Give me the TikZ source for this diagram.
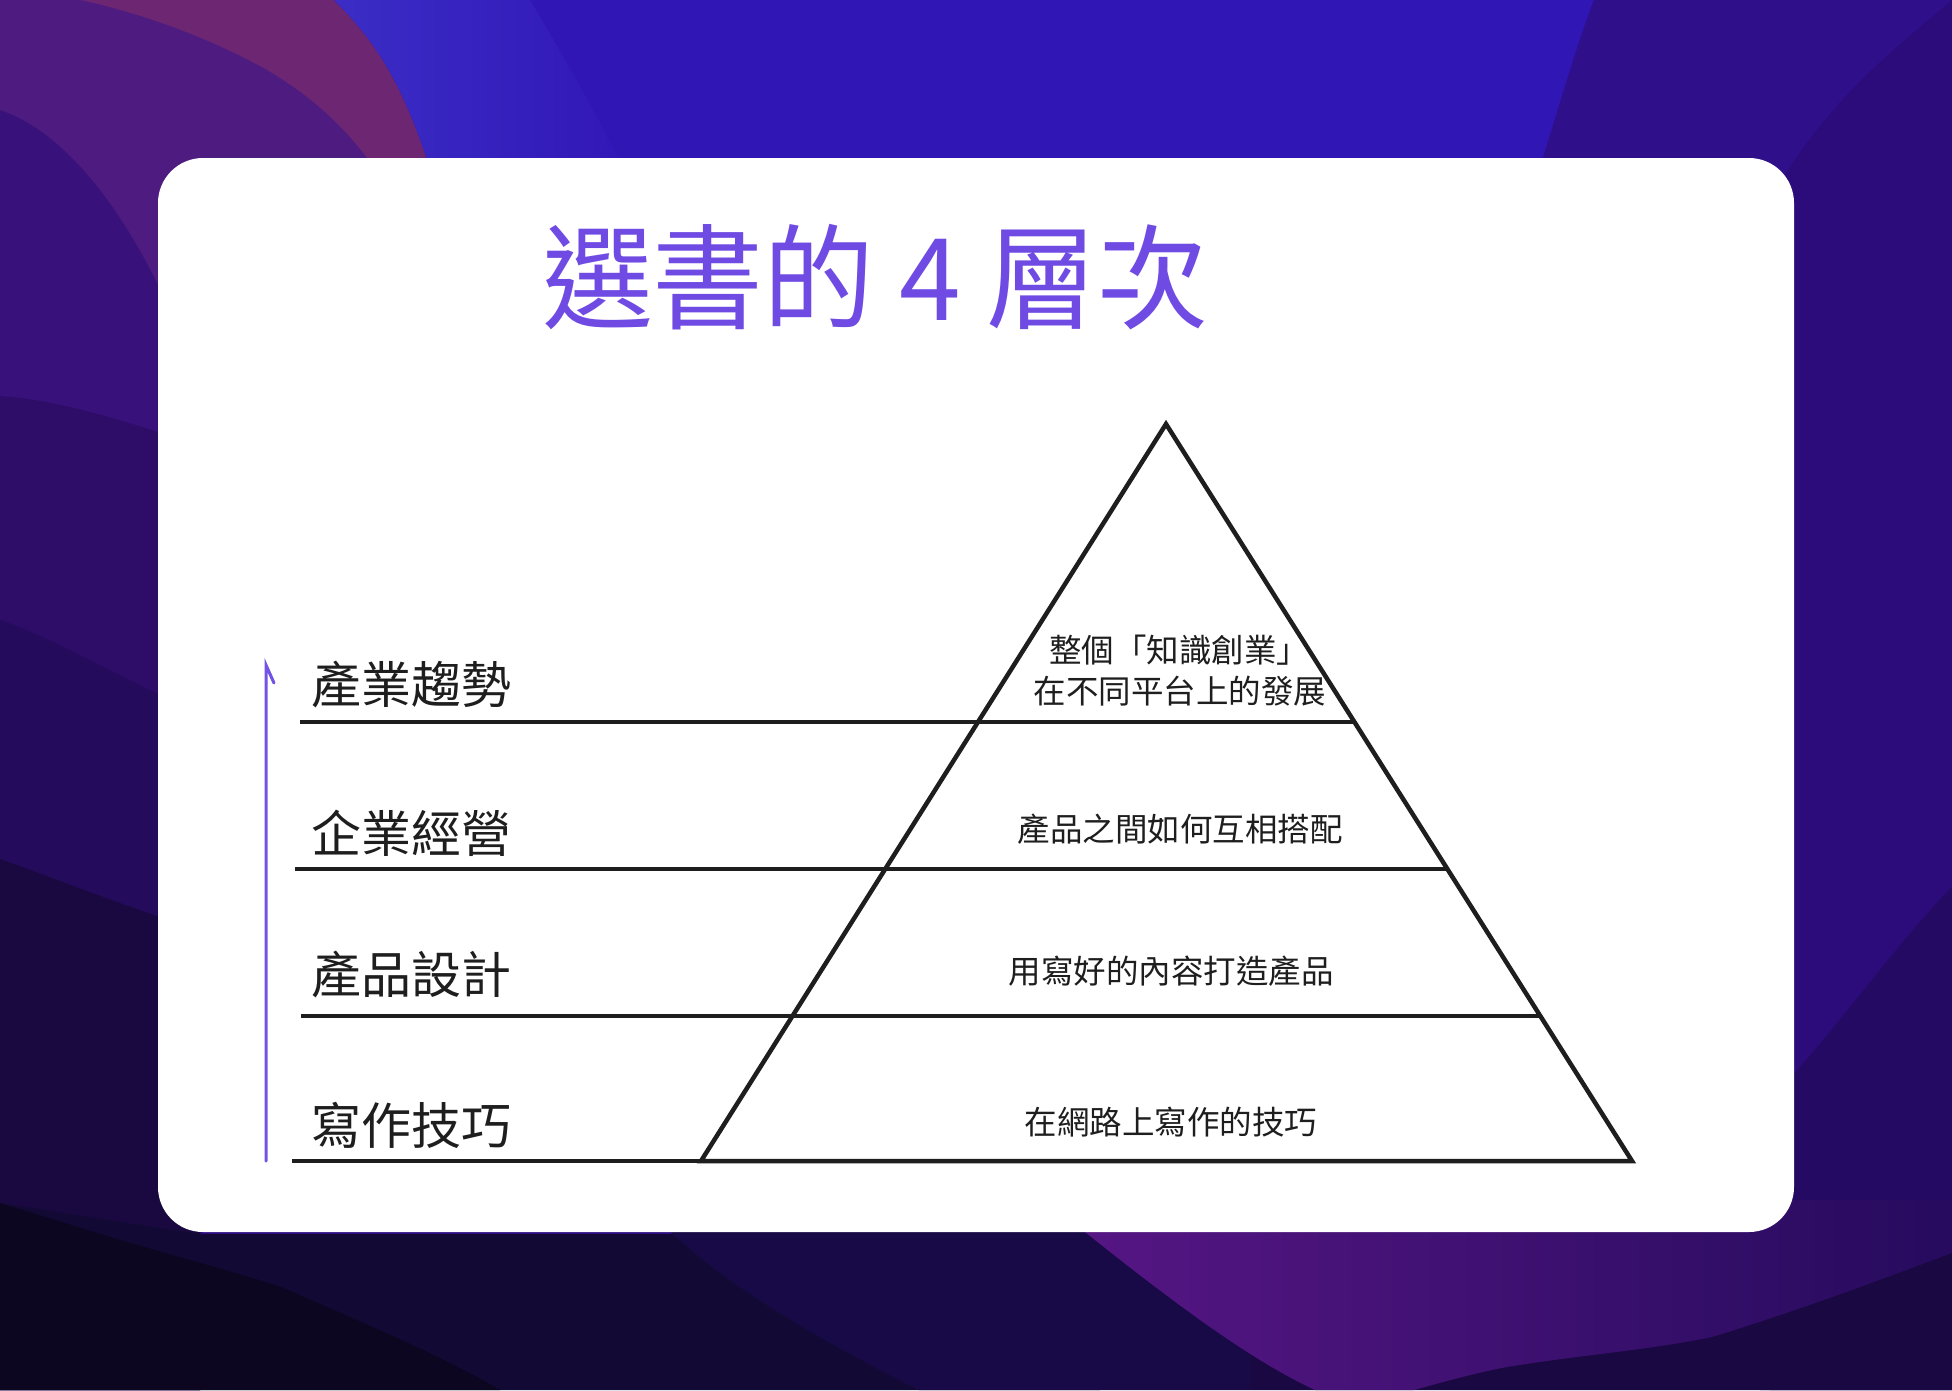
\documentclass[tikz,border=0pt]{standalone}
\usepackage{graphicx}
\usepackage{fontspec}
\newfontfamily\cjk{Noto Sans CJK TC}
\definecolor{bgbase}{HTML}{2C0C80}
\definecolor{bgblue}{HTML}{3116B6}
\definecolor{bgbluelt}{HTML}{3B2DC6}
\definecolor{bgtr}{HTML}{2F0F8A}
\definecolor{bgtrr}{HTML}{2B0C7A}
\definecolor{bgmag}{HTML}{6D2772}
\definecolor{bgA}{HTML}{4E1C80}
\definecolor{bgB}{HTML}{38127A}
\definecolor{bgC}{HTML}{2E0D68}
\definecolor{bgD}{HTML}{250B5C}
\definecolor{bgE}{HTML}{1A0940}
\definecolor{bgdark}{HTML}{0D0620}
\definecolor{bgmid}{HTML}{120A34}
\definecolor{bgmid2}{HTML}{170A46}
\definecolor{bgpur}{HTML}{561684}
\definecolor{bgpurend}{HTML}{260B5E}
\definecolor{bgbr}{HTML}{1A0842}
\definecolor{bgrb}{HTML}{240A62}
\definecolor{titlecol}{HTML}{704BE3}
\definecolor{ink}{HTML}{1E1E1E}
\definecolor{arrowcol}{HTML}{7352E6}
\tikzset{
  card/.style={fill=white, rounded corners=45pt},
  layerline/.style={draw=ink, line width=4.5pt},
  pyr/.style={draw=ink, line width=4.5pt, line join=miter},
  lefttext/.style={anchor=west, inner sep=0pt, text=ink, font=\cjk\fontsize{50}{60}\selectfont},
  intext/.style={inner sep=0pt, text=ink, align=center, font=\cjk\fontsize{32.5}{43}\selectfont},
  titletext/.style={inner sep=0pt, text=titlecol, font=\cjk\fontsize{114}{130}\selectfont},
  uparrow/.style={draw=arrowcol, line width=3pt, line cap=round}
}
\begin{document}
\begin{tikzpicture}[x=1pt,y=-1pt]
\useasboundingbox (0,0) rectangle (1952,1390);
% ---------- background ----------
\fill[bgbase] (0,0) rectangle (1952,1390);
% left bands
\fill[bgA] (0,0) rectangle (460,420);
\fill[bgB] (0,110) .. controls (60,130) and (120,200) .. (170,310) -- (200,310) -- (200,1390) -- (0,1390) -- cycle;
\fill[bgC] (0,396) .. controls (60,400) and (120,420) .. (200,445) -- (200,1390) -- (0,1390) -- cycle;
\fill[bgD] (0,620) .. controls (60,640) and (120,680) .. (200,712) -- (200,1390) -- (0,1390) -- cycle;
\fill[bgE] (0,859) .. controls (60,880) and (120,905) .. (200,930) -- (200,1390) -- (0,1390) -- cycle;
% bottom
\fill[bgmid] (0,1203) .. controls (60,1212) and (120,1222) .. (200,1234) -- (1100,1234) -- (1100,1390) -- (0,1390) -- cycle;
\fill[bgdark] (0,1203) -- (62,1222) .. controls (150,1250) and (230,1270) .. (281,1287) .. controls (380,1330) and (450,1360) .. (500,1390) -- (0,1390) -- cycle;
\fill[bgmid2] (640,1200) .. controls (700,1270) and (800,1330) .. (919,1390) -- (1952,1390) -- (1952,1200) -- cycle;
% right column
\fill[bgtrr] (1952,0) .. controls (1880,60) and (1820,110) .. (1770,200) -- (1770,1390) -- (1952,1390) -- cycle;
\fill[bgrb] (1760,1110) .. controls (1830,1040) and (1890,950) .. (1952,887) -- (1952,1390) -- (1760,1390) -- cycle;
\fill[bgbr] (1250,1232) rectangle (1952,1390);
% purple bottom right
\shade[left color=bgpur, right color=bgpurend] (1070,1200) -- (1085,1232) .. controls (1170,1300) and (1250,1360) .. (1315,1390) -- (1414,1390) .. controls (1450,1380) and (1480,1372) .. (1507,1367) .. controls (1580,1355) and (1650,1350) .. (1712,1337) .. controls (1800,1310) and (1880,1280) .. (1952,1253) -- (1952,1200) -- cycle;
% top
\fill[bgmag] (81,0) -- (334,0) .. controls (385,50) and (410,100) .. (440,200) -- (395,200) .. controls (360,140) and (320,100) .. (262,67) .. controls (230,50) and (170,20) .. (81,0) -- cycle;
\fill[bgblue] (334,0) .. controls (385,50) and (410,100) .. (440,200) -- (1530,200) .. controls (1555,120) and (1575,50) .. (1594,0) -- cycle;
\shade[left color=bgbluelt, right color=bgblue] (334,0) .. controls (385,50) and (410,100) .. (440,200) -- (640,200) .. controls (600,120) and (560,50) .. (530,0) -- cycle;
\fill[bgtr] (1594,0) .. controls (1575,50) and (1555,120) .. (1530,200) -- (1770,200) .. controls (1820,110) and (1880,60) .. (1952,0) -- cycle;
% ---------- card ----------
\fill[card] (158,158) rectangle (1794,1232);
% ---------- title ----------
\node[titletext] (title) at (875,277) {\scalebox{0.973}[1]{選書的 4 層次}};
% ---------- pyramid ----------
\coordinate (apex) at (1166,424);
\coordinate (bl) at (701,1161);
\coordinate (br) at (1632,1161);
\draw[pyr] (bl) -- (apex) -- (br) -- cycle;
\coordinate (l1a) at (300,722);  \coordinate (l1b) at (1354,722);
\coordinate (l2a) at (295,869);  \coordinate (l2b) at (1447,869);
\coordinate (l3a) at (301,1016); \coordinate (l3b) at (1540,1016);
\coordinate (l4a) at (292,1161);
\draw[layerline] (l1a) -- (l1b);
\draw[layerline] (l2a) -- (l2b);
\draw[layerline] (l3a) -- (l3b);
\draw[layerline] (l4a) -- (bl);
% ---------- left labels ----------
\node[lefttext] (t1) at (311,685) {產業趨勢};
\node[lefttext] (t2) at (311,833) {企業經營};
\node[lefttext] (t3) at (311,975) {產品設計};
\node[lefttext] (t4) at (311,1125) {寫作技巧};
% ---------- pyramid texts ----------
\node[intext] (p1a) at (1179,650) {整個「知識創業」};
\node[intext] (p1b) at (1180,691) {在不同平台上的發展};
\node[intext] (p2) at (1180,829) {產品之間如何互相搭配};
\node[intext] (p3) at (1171,971) {用寫好的內容打造產品};
\node[intext] (p4) at (1171,1122) {在網路上寫作的技巧};
% ---------- arrow ----------
\coordinate (abot) at (266,1161);
\coordinate (atop) at (266,665);
\coordinate (abarb) at (274,683);
\draw[uparrow] (abot) -- (atop) -- (abarb);
\end{tikzpicture}
\end{document}
